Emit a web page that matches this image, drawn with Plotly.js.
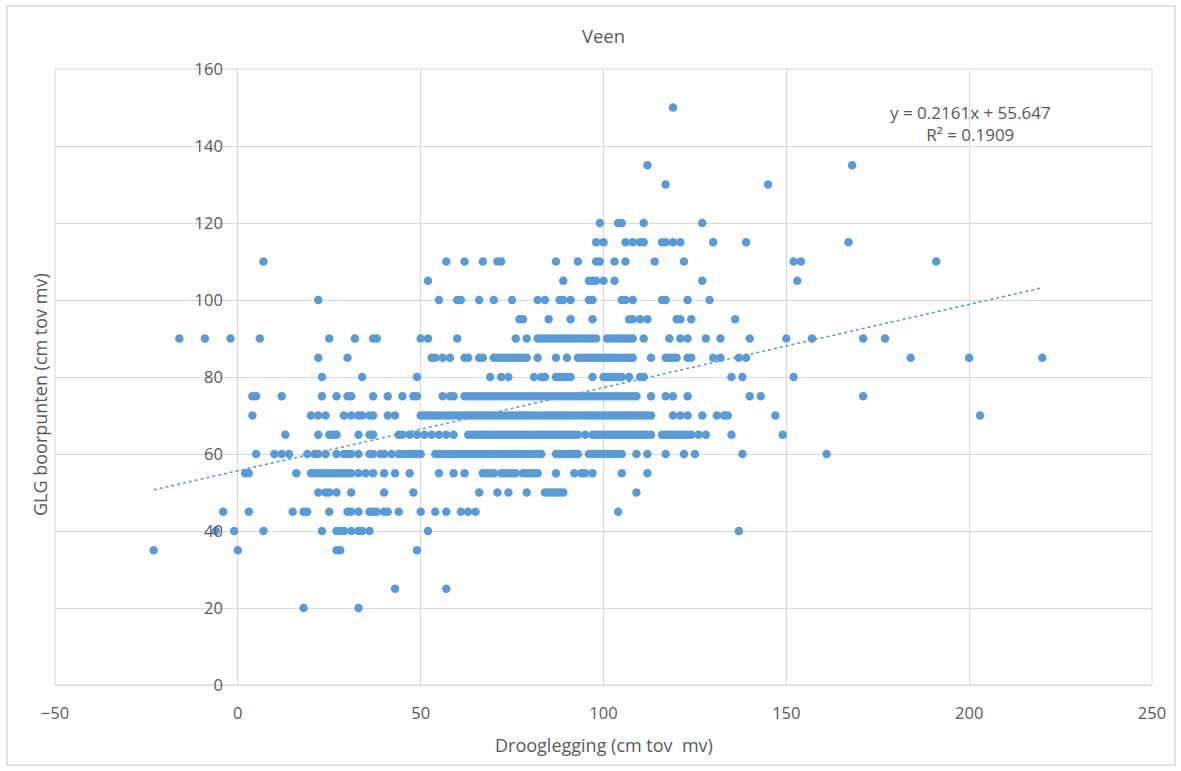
<!DOCTYPE html>
<html>
<head>
<meta charset="utf-8">
<script src="https://cdn.plot.ly/plotly-3.0.1.min.js"></script>
<style>
  html, body { margin: 0; padding: 0; background: #ffffff; }
  #chart { width: 1181px; height: 771px; }
</style>
</head>
<body>
<div id="chart"></div>
<script>
// GLG boorpunten levels (cm tov mv) and the drooglegging values (cm tov mv) read at each level
const glg150 = [119];
const glg135 = [112, 168];
const glg130 = [117, 145];
const glg120 = [99, 104, 105, 111, 127];
const glg115 = [98, 100, 106, 108, 110, 111, 116, 117, 119, 121, 130, 139, 167];
const glg110 = [7, 57, 62, 67, 71, 72, 87, 93, 98, 99, 103, 106, 114, 122, 152, 154, 191];
const glg105 = [52, 89, 96, 97, 98, 100, 103, 127, 153];
const glg100 = [22, 55, 60, 61, 66, 70, 75, 82, 84, 88, 89, 91, 96, 97, 105, 106, 108, 116, 117, 123, 129];
const glg95  = [77, 78, 85, 91, 97, 107, 108, 110, 112, 120, 121, 124, 136];
const glg90  = [-16, -9, -2, 6, 25, 32, 37, 38, 50, 52, 60, 76, 79, 82, 83, 84, 85, 86, 87, 88, 89, 90, 91, 92, 93, 94, 95, 96, 97, 98, 101, 102, 103, 104, 105, 106, 107, 108, 111, 118, 121, 123, 128, 132, 140, 150, 157, 171, 177];
const glg85  = [22, 30, 53, 54, 56, 58, 62, 63, 66, 67, 70, 71, 72, 73, 74, 75, 76, 77, 78, 79, 82, 87, 90, 93, 94, 95, 96, 97, 98, 99, 100, 101, 102, 103, 104, 105, 106, 107, 108, 113, 117, 118, 119, 120, 123, 124, 130, 132, 137, 139, 184, 200, 220];
const glg80  = [23, 34, 49, 69, 72, 74, 81, 83, 84, 87, 88, 89, 90, 91, 97, 100, 101, 102, 103, 104, 105, 107, 110, 111, 135, 138, 152];
const glg75  = [4, 5, 12, 23, 27, 30, 31, 37, 41, 45, 48, 49, 56, 58, 59, 62, 63, 64, 65, 66, 67, 68, 69, 70, 71, 72, 73, 74, 75, 76, 77, 78, 79, 80, 81, 82, 83, 84, 85, 86, 87, 88, 89, 90, 91, 92, 93, 94, 95, 96, 97, 98, 99, 100, 101, 102, 103, 104, 105, 106, 107, 108, 109, 113, 117, 119, 123, 140, 143, 171];
const glg70  = [4, 20, 22, 24, 29, 31, 33, 34, 36, 37, 41, 43, 50, 51, 52, 53, 54, 55, 56, 57, 58, 59, 60, 61, 62, 63, 64, 65, 66, 67, 68, 69, 70, 71, 72, 73, 74, 75, 76, 77, 78, 79, 80, 81, 82, 83, 84, 85, 86, 87, 88, 89, 90, 91, 92, 93, 94, 95, 96, 97, 98, 99, 100, 101, 102, 103, 104, 105, 106, 107, 108, 109, 110, 111, 112, 113, 119, 121, 123, 127, 131, 133, 134, 147, 203];
const glg65  = [13, 22, 25, 26, 27, 33, 36, 37, 44, 45, 47, 49, 51, 53, 55, 57, 59, 63, 64, 65, 66, 67, 68, 69, 70, 71, 72, 73, 74, 75, 76, 77, 78, 79, 80, 81, 82, 83, 84, 85, 86, 87, 88, 89, 90, 91, 92, 93, 95, 97, 98, 99, 100, 101, 102, 103, 104, 105, 106, 107, 108, 109, 110, 111, 112, 113, 116, 117, 118, 119, 120, 121, 122, 123, 124, 126, 128, 135, 149];
const glg60  = [5, 10, 12, 14, 19, 21, 22, 24, 27, 29, 30, 31, 33, 36, 37, 39, 40, 42, 44, 45, 46, 47, 48, 49, 50, 54, 55, 56, 57, 58, 59, 60, 61, 62, 63, 64, 65, 66, 67, 68, 69, 70, 71, 72, 73, 74, 75, 76, 77, 78, 79, 80, 81, 82, 83, 87, 88, 89, 90, 91, 92, 93, 96, 97, 98, 99, 100, 101, 102, 103, 104, 105, 109, 112, 117, 122, 125, 138, 161];
const glg55  = [2, 3, 16, 20, 21, 22, 23, 24, 25, 26, 27, 28, 29, 30, 31, 33, 35, 37, 40, 43, 47, 55, 59, 62, 67, 68, 69, 70, 72, 73, 74, 75, 76, 78, 79, 80, 81, 82, 87, 92, 94, 95, 97, 105, 112];
const glg50  = [22, 24, 25, 27, 31, 40, 48, 66, 71, 74, 79, 84, 85, 86, 87, 88, 89, 109];
const glg45  = [-4, 3, 15, 18, 19, 25, 30, 31, 33, 36, 37, 38, 40, 41, 44, 50, 54, 57, 61, 63, 65, 104];
const glg40  = [-6, -1, 7, 23, 27, 28, 29, 31, 33, 34, 36, 52, 137];
const glg35  = [-23, 0, 27, 28, 49];
const glg25  = [43, 57];
const glg20  = [18, 33];

const glgLevels = [150, 135, 130, 120, 115, 110, 105, 100, 95, 90, 85, 80, 75, 70, 65, 60, 55, 50, 45, 40, 35, 25, 20];
const droogAtLevel = [glg150, glg135, glg130, glg120, glg115, glg110, glg105, glg100, glg95, glg90, glg85, glg80, glg75, glg70, glg65, glg60, glg55, glg50, glg45, glg40, glg35, glg25, glg20];

// Linear trendline reported on the chart
const trendSlope = 0.2161;
const trendIntercept = 55.647;
const trendXRange = [-23, 220];

const xTickVals = [-50, 0, 50, 100, 150, 200, 250];
const yTickVals = [0, 20, 40, 60, 80, 100, 120, 140, 160];

const px = [], py = [];
glgLevels.forEach((lvl, i) => {
  droogAtLevel[i].forEach(d => { px.push(d); py.push(lvl); });
});

const trendX = trendXRange.slice();
const trendY = trendX.map(x => trendSlope * x + trendIntercept);

const FONT = "Open Sans, Noto Sans, sans-serif";
const TXT = "#595959";
const GRID = "#d9d9d9";

const traces = [
  {
    type: "scatter", mode: "markers", x: px, y: py,
    marker: { color: "#5B9BD5", size: 8.5, line: { width: 0 } },
    hoverinfo: "x+y"
  },
  {
    type: "scatter", mode: "lines", x: trendX, y: trendY,
    line: { color: "#5B9BD5", width: 1.6, dash: "dot" },
    hoverinfo: "skip"
  }
];

const layout = {
  width: 1181, height: 771,
  margin: { l: 55, r: 29, t: 69, b: 86 },
  paper_bgcolor: "#ffffff", plot_bgcolor: "#ffffff",
  showlegend: false,
  font: { family: FONT, color: TXT, size: 16 },
  title: { text: "Veen", font: { family: FONT, size: 18.5, color: TXT }, x: 0.5, xref: "paper", xanchor: "center", y: 1 - 37 / 771, yanchor: "middle" },
  xaxis: {
    range: [-50, 250], tickmode: "array", tickvals: xTickVals,
    showgrid: true, gridcolor: GRID, gridwidth: 1,
    zeroline: true, zerolinecolor: GRID, zerolinewidth: 1,
    showline: false, ticks: "", ticklabelstandoff: 16,
    tickfont: { family: FONT, size: 16.5, color: TXT }
  },
  yaxis: {
    range: [0, 160], tickmode: "array", tickvals: yTickVals,
    anchor: "free", position: 50 / 300,
    showgrid: true, gridcolor: GRID, gridwidth: 1,
    zeroline: true, zerolinecolor: GRID, zerolinewidth: 1,
    showline: false, ticks: "", ticklabelstandoff: 15,
    tickfont: { family: FONT, size: 16.5, color: TXT }
  },
  shapes: [
    { type: "rect", xref: "paper", yref: "paper", x0: 0, x1: 1, y0: 0, y1: 1, line: { color: GRID, width: 1 }, layer: "below" },
    { type: "rect", xref: "paper", yref: "paper", x0: (7 - 55) / 1097, x1: (1175 - 55) / 1097, y0: (685 - 765) / 616, y1: (685 - 6) / 616, line: { color: GRID, width: 1.5 }, layer: "below" }
  ],
  annotations: [
    { text: "Drooglegging (cm tov&nbsp; mv)", xref: "paper", yref: "paper", x: 0.5, y: -(745 - 685) / 616, xanchor: "center", yanchor: "middle", showarrow: false, font: { family: FONT, size: 18, color: TXT } },
    { text: "GLG boorpunten (cm tov mv)", xref: "paper", yref: "paper", x: (40 - 55) / 1097, y: (685 - 395) / 616, xanchor: "center", yanchor: "middle", textangle: -90, showarrow: false, font: { family: FONT, size: 18, color: TXT } },
    { text: "y = 0.2161x + 55.647<br>R² = 0.1909", xref: "paper", yref: "paper", x: (970 - 55) / 1097, y: (685 - 123) / 616, xanchor: "center", yanchor: "middle", align: "center", showarrow: false, font: { family: FONT, size: 17, color: TXT } }
  ]
};

Plotly.newPlot("chart", traces, layout, { displayModeBar: false, responsive: false });
</script>
</body>
</html>
